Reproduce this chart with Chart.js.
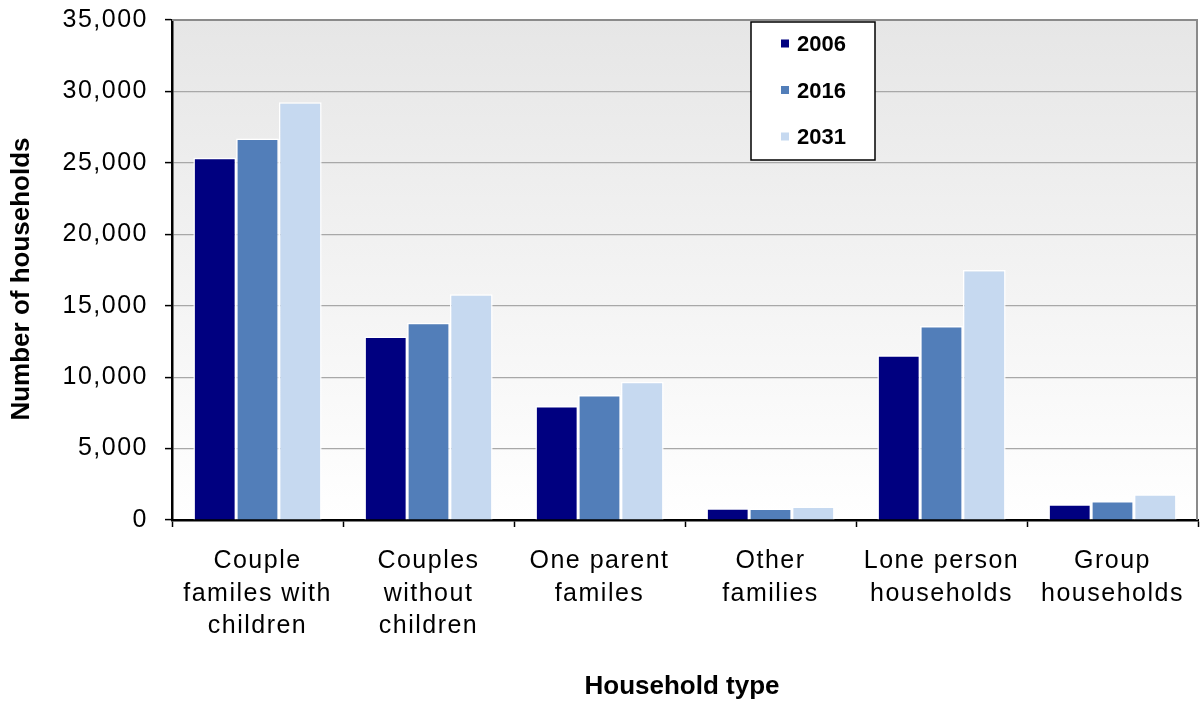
<!DOCTYPE html>
<html>
<head>
<meta charset="utf-8">
<title>Household type projections</title>
<script src="https://cdn.jsdelivr.net/npm/chart.js@4/dist/chart.umd.min.js"></script>
<style>
  html, body { margin: 0; padding: 0; background: #ffffff; }
  #wrap { width: 1200px; height: 704px; position: relative; }
</style>
</head>
<body>
<div id="wrap"><canvas id="chart" width="1200" height="704"></canvas></div>
<script>
// Household counts by type, for each year
const categories = [
  ['Couple', 'familes with', 'children'],
  ['Couples', 'without', 'children'],
  ['One parent', 'familes'],
  ['Other', 'families'],
  ['Lone person', 'households'],
  ['Group', 'households']
];
const years = ['2006', '2016', '2031'];
const households2006 = [25350, 12850, 7980, 820, 11530, 1100];
const households2016 = [26700, 13800, 8750, 810, 13580, 1330];
const households2031 = [29250, 15800, 9680, 950, 17500, 1800];
const yTickLabels = ['0', '5,000', '10,000', '15,000', '20,000', '25,000', '30,000', '35,000'];
const yMax = 35000;
const yStep = 5000;
const xTitle = 'Household type';
const yTitle = 'Number of households';

const seriesColors = ['#000080', '#527EB9', '#C6D9F0'];
const seriesValues = [households2006, households2016, households2031];

const FONT = '"Liberation Sans", Arial, Helvetica, sans-serif';

// Plot background, frame, axis titles and the boxed legend
const decor = {
  id: 'decor',
  beforeDraw(chart) {
    const { ctx, chartArea: a } = chart;
    ctx.letterSpacing = '0px';
    const g = ctx.createLinearGradient(0, a.top, 0, a.bottom);
    g.addColorStop(0, '#e6e6e6');
    g.addColorStop(1, '#ffffff');
    ctx.save();
    ctx.fillStyle = g;
    ctx.fillRect(a.left, a.top, a.right - a.left, a.bottom - a.top);
    ctx.restore();
  },
  beforeDatasetsDraw(chart) {
    const { ctx, chartArea: a } = chart;
    ctx.save();
    ctx.strokeStyle = '#8a8a8a';
    ctx.lineWidth = 2;
    ctx.beginPath();
    ctx.moveTo(a.left, a.top);
    ctx.lineTo(a.right - 1, a.top);
    ctx.lineTo(a.right - 1, a.bottom);
    ctx.stroke();
    ctx.restore();
  },
  afterDatasetsDraw(chart) {
    // tick labels (drawn on a later layer) use a slightly open letter spacing
    chart.ctx.letterSpacing = '1.5px';
  },
  afterDraw(chart) {
    const { ctx, chartArea: a } = chart;
    ctx.save();
    ctx.letterSpacing = '0px';
    ctx.fillStyle = '#000';

    // axis titles
    ctx.font = 'bold 26px ' + FONT;
    ctx.textAlign = 'center';
    ctx.textBaseline = 'middle';
    ctx.fillText(xTitle, (a.left + a.right) / 2 - 3, 687);
    ctx.save();
    ctx.translate(22, 279);
    ctx.rotate(-Math.PI / 2);
    ctx.fillText(yTitle, 0, 0);
    ctx.restore();

    // legend box
    const bx = 751, by = 22, bw = 124, bh = 138;
    ctx.fillStyle = '#ffffff';
    ctx.fillRect(bx, by, bw, bh);
    ctx.strokeStyle = '#000';
    ctx.lineWidth = 1.5;
    ctx.strokeRect(bx, by, bw, bh);
    ctx.font = 'bold 22px ' + FONT;
    ctx.textAlign = 'left';
    chart.data.datasets.forEach((ds, i) => {
      const cy = by + 22 + i * 46.5;
      ctx.fillStyle = ds.backgroundColor;
      ctx.fillRect(bx + 30, cy - 4.5, 8, 8);
      ctx.fillStyle = '#000';
      ctx.fillText(ds.label, bx + 46, cy + 1);
    });
    ctx.restore();
  }
};

new Chart(document.getElementById('chart'), {
  type: 'bar',
  data: {
    labels: categories,
    datasets: years.map((y, i) => ({
      label: y,
      data: seriesValues[i],
      backgroundColor: seriesColors[i],
      borderColor: '#ffffff',
      borderWidth: 1.5
    }))
  },
  options: {
    responsive: false,
    animation: false,
    devicePixelRatio: 1,
    layout: { padding: { top: 20, right: 2, left: 0, bottom: 0 } },
    datasets: { bar: { categoryPercentage: 0.75, barPercentage: 1 } },
    plugins: {
      legend: { display: false },
      tooltip: { enabled: false }
    },
    scales: {
      x: {
        afterFit(scale) {
          scale.height = 184;
          scale.paddingLeft = 0;
          scale.paddingRight = 0;
        },
        grid: {
          offset: true,
          drawOnChartArea: false,
          drawTicks: true,
          tickLength: 7,
          tickColor: '#000',
          tickWidth: 1.5
        },
        border: { color: '#000', width: 2.5 },
        ticks: {
          z: 1,
          autoSkip: false,
          maxRotation: 0,
          minRotation: 0,
          padding: 18,
          color: '#000',
          font: { family: FONT, size: 25, lineHeight: 1.3 }
        }
      },
      y: {
        min: 0,
        max: yMax,
        afterFit(scale) {
          scale.width = 172;
          scale.paddingTop = 0;
          scale.paddingBottom = 0;
        },
        grid: {
          color: '#a8a8a8',
          lineWidth: 1.2,
          drawTicks: true,
          tickLength: 7,
          tickColor: '#000',
          tickWidth: 1.5
        },
        border: { color: '#000', width: 2.5 },
        ticks: {
          z: 1,
          stepSize: yStep,
          padding: 17,
          color: '#000',
          font: { family: FONT, size: 25 },
          callback: (v, i) => yTickLabels[i]
        }
      }
    }
  },
  plugins: [decor]
});
</script>
</body>
</html>
